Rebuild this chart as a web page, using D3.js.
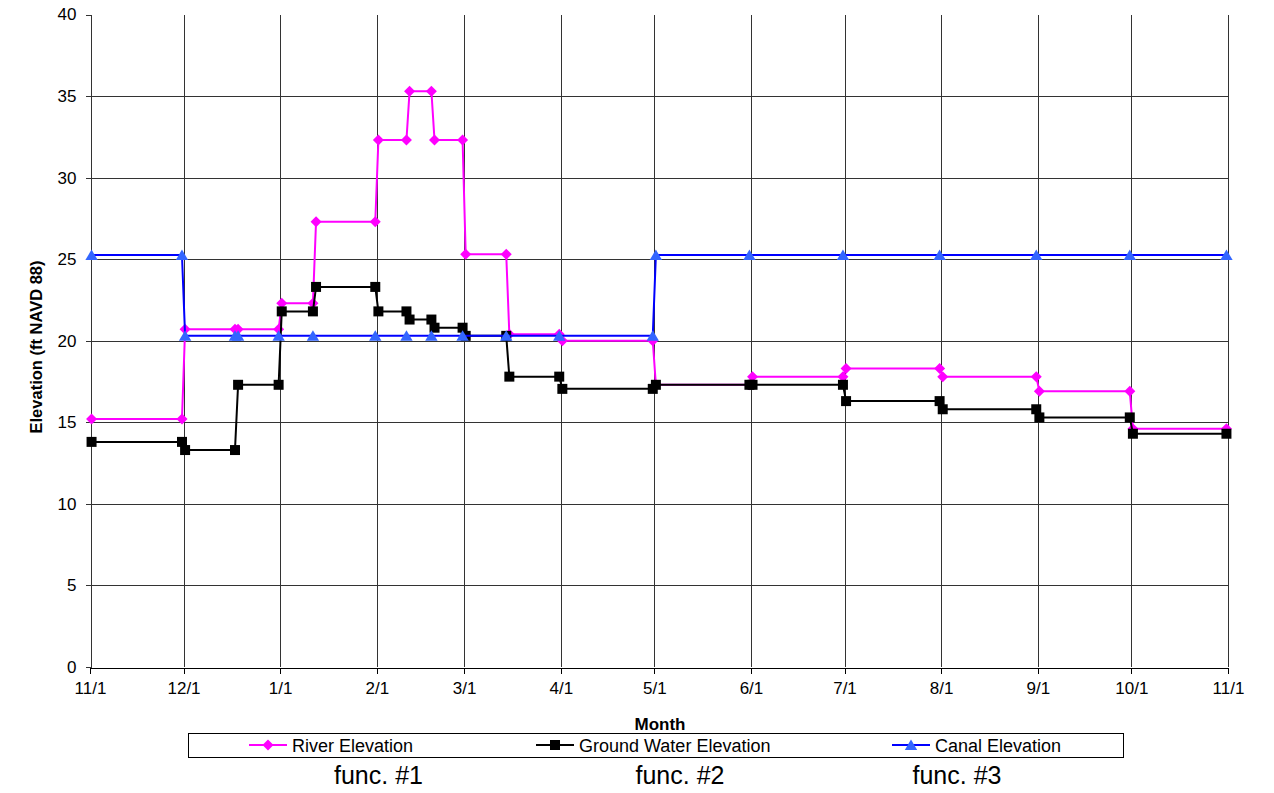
<!DOCTYPE html>
<html>
<head>
<meta charset="utf-8">
<script src="https://cdn.jsdelivr.net/npm/d3@7"></script>
<style>
  html, body { margin: 0; padding: 0; background: #fff; }
  svg { display: block; font-family: "Liberation Sans", Arial, sans-serif; }
</style>
</head>
<body>
<svg id="chart" width="1274" height="793"></svg>
<script>
// ---------------- data ----------------
const riverDates = ["2006-11-01","2006-11-30","2006-12-01","2006-12-17","2006-12-18","2006-12-31","2007-01-01","2007-01-11","2007-01-12","2007-01-31","2007-02-01","2007-02-10","2007-02-11","2007-02-18","2007-02-19","2007-02-28","2007-03-01","2007-03-14","2007-03-15","2007-03-31","2007-04-01","2007-04-30","2007-05-01","2007-05-31","2007-06-01","2007-06-30","2007-07-01","2007-07-31","2007-08-01","2007-08-31","2007-09-01","2007-09-30","2007-10-01","2007-10-31"];
const riverValues = [15.2,15.2,20.7,20.7,20.7,20.7,22.3,22.3,27.3,27.3,32.3,32.3,35.3,35.3,32.3,32.3,25.3,25.3,20.4,20.4,20.0,20.0,17.3,17.3,17.8,17.8,18.3,18.3,17.8,17.8,16.9,16.9,14.6,14.6];

const groundDates = ["2006-11-01","2006-11-30","2006-12-01","2006-12-17","2006-12-18","2006-12-31","2007-01-01","2007-01-11","2007-01-12","2007-01-31","2007-02-01","2007-02-10","2007-02-11","2007-02-18","2007-02-19","2007-02-28","2007-03-01","2007-03-14","2007-03-15","2007-03-31","2007-04-01","2007-04-30","2007-05-01","2007-05-31","2007-06-01","2007-06-30","2007-07-01","2007-07-31","2007-08-01","2007-08-31","2007-09-01","2007-09-30","2007-10-01","2007-10-31"];
const groundValues = [13.8,13.8,13.3,13.3,17.3,17.3,21.8,21.8,23.3,23.3,21.8,21.8,21.3,21.3,20.8,20.8,20.3,20.3,17.8,17.8,17.05,17.05,17.3,17.3,17.3,17.3,16.3,16.3,15.8,15.8,15.3,15.3,14.3,14.3];

const canalDates = ["2006-11-01","2006-11-30","2006-12-01","2006-12-17","2006-12-18","2006-12-31","2007-01-11","2007-01-31","2007-02-10","2007-02-18","2007-02-28","2007-03-14","2007-03-31","2007-04-30","2007-05-01","2007-05-31","2007-06-30","2007-07-31","2007-08-31","2007-09-30","2007-10-31"];
const canalValues = [25.25,25.25,20.3,20.3,20.3,20.3,20.3,20.3,20.3,20.3,20.3,20.3,20.3,20.3,25.25,25.25,25.25,25.25,25.25,25.25,25.25];

const seriesNames = ["River Elevation","Ground Water Elevation","Canal Elevation"];
const yTicks = [0,5,10,15,20,25,30,35,40];
const xDomain = ["2006-11-01","2007-11-01"];
const yDomain = [0,40];
const funcLabels = ["func. #1","func. #2","func. #3"];
const xTitle = "Month";
const yTitle = "Elevation (ft NAVD 88)";

// ---------------- setup ----------------
const parse = d3.timeParse("%Y-%m-%d");
const atNoon = s => d3.timeHour.offset(parse(s), 12);

const svg = d3.select("#chart");
svg.append("rect").attr("width",1274).attr("height",793).attr("fill","#fff");

const plotL = 90, plotR = 1228, plotT = 14.5, plotB = 667;
const x = d3.scaleTime().domain(xDomain.map(parse)).range([plotL, plotR]);
const y = d3.scaleLinear().domain(yDomain).range([plotB, plotT]);

const monthTicks = d3.timeMonth.range(parse(xDomain[0]), d3.timeDay.offset(parse(xDomain[1]),1));

// gridlines
const grid = svg.append("g").attr("shape-rendering","crispEdges");
grid.selectAll(".vg").data(monthTicks.slice(1)).join("line")
  .attr("x1", d => Math.round(x(d)) + 0.5).attr("x2", d => Math.round(x(d)) + 0.5)
  .attr("y1", plotT).attr("y2", plotB)
  .attr("stroke", "#333").attr("stroke-width", 1);
grid.selectAll(".hg").data(yTicks.filter(v => v > 0 && v < 40)).join("line")
  .attr("x1", plotL).attr("x2", plotR)
  .attr("y1", d => Math.round(y(d)) + 0.5).attr("y2", d => Math.round(y(d)) + 0.5)
  .attr("stroke", "#333").attr("stroke-width", 1);

// axes
const xAxis = d3.axisBottom(x).tickValues(monthTicks).tickFormat(d3.timeFormat("%-m/%-d")).tickSize(6).tickSizeOuter(0);
const gx = svg.append("g").attr("transform", `translate(0,${Math.round(plotB)+0.5})`).call(xAxis);
gx.select(".domain").attr("stroke","#000").attr("shape-rendering","crispEdges");
gx.selectAll(".tick line").attr("stroke","#000").attr("shape-rendering","crispEdges");
gx.selectAll(".tick text").attr("font-size", 17).attr("font-family","Liberation Sans, Arial, sans-serif")
  .attr("fill","#000").attr("y", 14).attr("dy","0.71em");

const yAxis = d3.axisLeft(y).tickValues(yTicks).tickSize(5).tickSizeOuter(0).tickPadding(9);
const gy = svg.append("g").attr("transform", `translate(${plotL+0.5},0)`).call(yAxis);
gy.select(".domain").attr("stroke","#333").attr("shape-rendering","crispEdges");
gy.selectAll(".tick line").attr("stroke","#333").attr("shape-rendering","crispEdges");
gy.selectAll(".tick text").attr("font-size", 17).attr("font-family","Liberation Sans, Arial, sans-serif").attr("fill","#000");

// axis titles
svg.append("text").attr("x", 660).attr("y", 730).attr("text-anchor","middle")
  .attr("font-size", 17).attr("font-weight","bold").text(xTitle);
svg.append("text").attr("transform","translate(42,347) rotate(-90)").attr("text-anchor","middle")
  .attr("font-size", 16.5).attr("font-weight","bold").text(yTitle);

// ---------------- series ----------------
const series = [
  {name: seriesNames[0], dates: riverDates, values: riverValues, line: "#FF00FF", fill: "#FF00FF", marker: "diamond"},
  {name: seriesNames[1], dates: groundDates, values: groundValues, line: "#000000", fill: "#000000", marker: "square"},
  {name: seriesNames[2], dates: canalDates, values: canalValues, line: "#0000FF", fill: "#3366FF", marker: "triangle"}
];

function markerPath(type) {
  if (type === "diamond") return "M0,-5.5L5.5,0L0,5.5L-5.5,0Z";
  if (type === "square") return "M-5,-5H5V5H-5Z";
  return "M0,-5.5L6.2,5L-6.2,5Z";
}

const lineGen = d3.line().x(d => x(d.date)).y(d => y(d.value));

series.forEach(s => {
  const pts = s.dates.map((d, i) => ({date: atNoon(d), value: s.values[i]}));
  const g = svg.append("g");
  g.append("path").datum(pts).attr("d", lineGen)
    .attr("fill","none").attr("stroke", s.line).attr("stroke-width", 2).attr("stroke-linejoin","miter");
  g.selectAll("path.m").data(pts).join("path").attr("class","m")
    .attr("d", markerPath(s.marker))
    .attr("transform", d => `translate(${x(d.date)},${y(d.value)})`)
    .attr("fill", s.fill).attr("stroke", "none");
});

// ---------------- legend ----------------
const legend = svg.append("g");
legend.append("rect").attr("x",188.5).attr("y",733.5).attr("width",935).attr("height",24)
  .attr("fill","#fff").attr("stroke","#000").attr("stroke-width",1).attr("shape-rendering","crispEdges");
const legendStarts = [249, 536, 892];
series.forEach((s, i) => {
  const sx = legendStarts[i], ly = 745;
  legend.append("line").attr("x1", sx).attr("x2", sx + 38).attr("y1", ly).attr("y2", ly)
    .attr("stroke", s.line).attr("stroke-width", 2);
  legend.append("path").attr("d", markerPath(s.marker)).attr("transform", `translate(${sx+19},${ly})`)
    .attr("fill", s.fill);
  legend.append("text").attr("x", sx + 43).attr("y", 751.5).attr("font-size", 18).attr("fill","#000").text(s.name);
});

// func labels
const funcX = [378.5, 680, 957];
svg.selectAll("text.func").data(funcLabels).join("text").attr("class","func")
  .attr("x", (d,i) => funcX[i]).attr("y", 784).attr("text-anchor","middle")
  .attr("font-size", 25).attr("fill","#000").text(d => d);
</script>
</body>
</html>
